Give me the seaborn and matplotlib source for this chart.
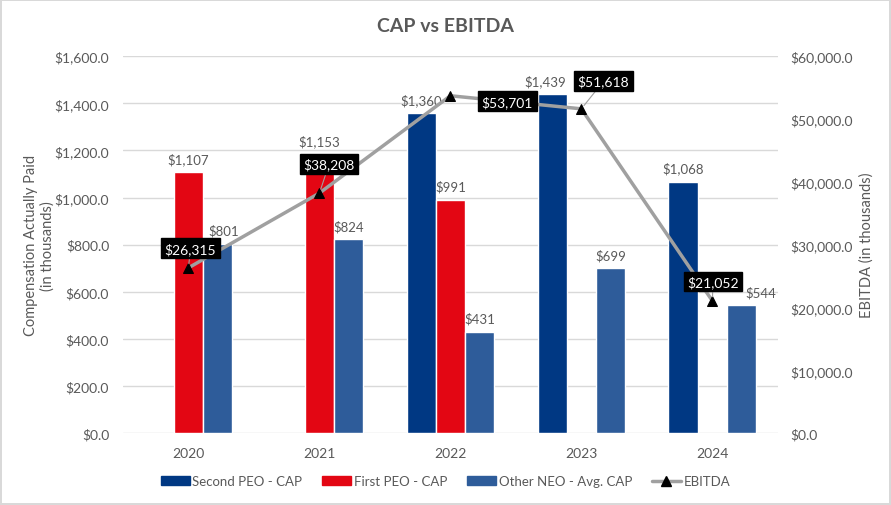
import numpy as np
import pandas as pd
import seaborn as sns
import matplotlib.pyplot as plt
from matplotlib.patches import Patch
from matplotlib.lines import Line2D

sns.set_style("white")
plt.rcParams["font.family"] = ["Lato", "DejaVu Sans"]

years = ["2020", "2021", "2022", "2023", "2024"]
second_peo = [np.nan, np.nan, 1360, 1439, 1068]
first_peo = [1107, 1153, 991, np.nan, np.nan]
other_neo = [801, 824, 431, 699, 544]
ebitda = [26315, 38208, 53701, 51618, 21052]

series = ["Second PEO - CAP", "First PEO - CAP", "Other NEO - Avg. CAP"]
colors = ["#003883", "#E30613", "#2E5C9A"]
grey_txt = "#595959"

df = pd.DataFrame({
    "year": years * 3,
    "series": np.repeat(series, len(years)),
    "cap": second_peo + first_peo + other_neo,
}).dropna()

fig = plt.figure(figsize=(8.91, 5.06), dpi=100)
fig.patch.set_edgecolor("#D9D9D9")
fig.patch.set_linewidth(1.5)
ax = fig.add_axes([0.138, 0.142, 0.735, 0.745])

sns.barplot(data=df, x="year", y="cap", hue="series", order=years,
            hue_order=series, palette=colors, width=0.67, saturation=1,
            ax=ax, legend=False)
labels = []
for c in ax.containers:
    labels.append(ax.bar_label(c, fmt="${:,.0f}", padding=5, fontsize=9.5,
                               color=grey_txt))
# Excel nudged a few labels clear of the EBITDA boxes / line
labels[0][1].xyann = (-5, 5)    # $1,439
labels[1][1].xyann = (0, 10)    # $1,153
labels[2][0].xyann = (4, 6)     # $801
labels[2][-1].xyann = (14, 5)   # $544

ax.set_xlim(-0.5, 4.5)
ax.set_ylim(0, 1600)
ax.set_yticks(np.arange(0, 1601, 200))
ax.set_yticklabels([f"${v:,.1f}" for v in np.arange(0, 1601, 200)])
ax.yaxis.grid(True, color="#D9D9D9", lw=1)
ax.set_axisbelow(True)
ax.set_xlabel("")
ax.set_ylabel("Compensation Actually Paid\n(in thousands)", color=grey_txt,
              fontsize=10.5, labelpad=0)
ax.tick_params(axis="y", colors=grey_txt, labelsize=10, length=0, pad=10)
ax.tick_params(axis="x", colors=grey_txt, labelsize=10, length=0, pad=10)
for s in ax.spines.values():
    s.set_visible(False)

ax2 = ax.twinx()
xpos = np.arange(len(years))
sns.lineplot(x=xpos, y=ebitda, ax=ax2, color="#A0A0A0", lw=2.5, marker="^",
             markersize=7, markerfacecolor="black", markeredgecolor="black")
ax2.set_ylim(0, 60000)
ax2.set_yticks(np.arange(0, 60001, 10000))
ax2.set_yticklabels([f"${v:,.1f}" for v in np.arange(0, 60001, 10000)])
ax2.set_ylabel("EBITDA (in thousands)", color=grey_txt, fontsize=10.5,
               labelpad=5)
ax2.tick_params(axis="y", colors=grey_txt, labelsize=10, length=0, pad=9)
for s in ax2.spines.values():
    s.set_visible(False)

offsets = [(1.5, 14), (7, 21), (41, -4), (16, 20), (0.5, 14)]
for x, v, off in zip(xpos, ebitda, offsets):
    ax2.annotate(f"${v:,.0f}", (x, v), xytext=off, textcoords="offset points",
                 ha="center", va="center", color="white", fontsize=10,
                 bbox=dict(boxstyle="square,pad=0.25", fc="black", ec="black"),
                 arrowprops=dict(arrowstyle="-", color="#A0A0A0", lw=0.8,
                                 shrinkA=0, shrinkB=3))

fig.text(0.5, 0.948, "CAP vs EBITDA", ha="center", va="center",
         fontsize=14, fontweight="bold", color=grey_txt)

handles = [Patch(color=c) for c in colors]
handles.append(Line2D([], [], color="#A0A0A0", lw=2.5, marker="^",
                      markersize=7, markerfacecolor="black",
                      markeredgecolor="black"))
fig.legend(handles, series + ["EBITDA"], loc="center",
           bbox_to_anchor=(0.5, 0.047), ncol=4, frameon=False, fontsize=9.5,
           labelcolor=grey_txt, handlelength=2.2, handleheight=0.6,
           columnspacing=1.5, handletextpad=0.2)

fig.savefig("out.png", dpi=100)
